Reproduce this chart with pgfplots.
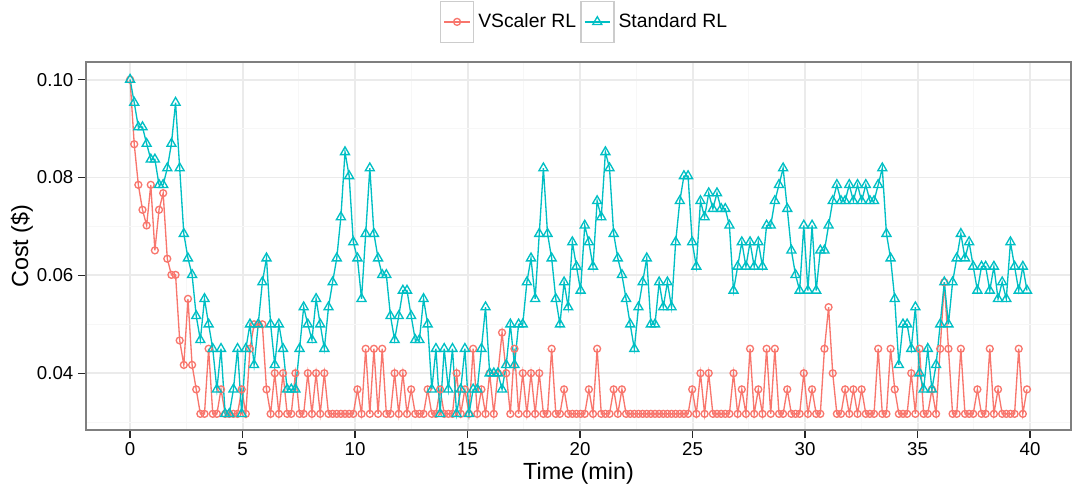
\documentclass[border=0pt]{standalone}
\usepackage{pgfplots}
\usepackage{pgfplotstable}
\pgfplotsset{compat=1.18}
\usepackage{fontspec}
\setmainfont{Liberation Sans}
\definecolor{vred}{HTML}{F8766D}
\definecolor{vteal}{HTML}{00BFC4}
\definecolor{gmaj}{HTML}{EBEBEB}
\definecolor{gmin}{HTML}{F7F7F7}
\definecolor{gborder}{HTML}{7F7F7F}
\definecolor{gkey}{HTML}{CCCCCC}
\pgfplotstableread{
t v s
0 0.1000 0.1000
0.184 0.0868 0.0953
0.367 0.0785 0.0903
0.551 0.0734 0.0903
0.735 0.0702 0.0869
0.919 0.0785 0.0837
1.102 0.0651 0.0837
1.286 0.0734 0.0785
1.470 0.0768 0.0785
1.653 0.0634 0.0819
1.837 0.0601 0.0869
2.021 0.0601 0.0953
2.204 0.0467 0.0819
2.388 0.0417 0.0685
2.572 0.0552 0.0635
2.756 0.0417 0.0601
2.939 0.0367 0.0517
3.123 0.0317 0.0468
3.307 0.0317 0.0552
3.490 0.0450 0.0500
3.674 0.0317 0.0450
3.858 0.0317 0.0367
4.041 0.0367 0.0450
4.225 0.0317 0.0317
4.409 0.0317 0.0317
4.593 0.0317 0.0367
4.776 0.0317 0.0450
4.960 0.0367 0.0317
5.144 0.0317 0.0450
5.327 0.0450 0.0500
5.511 0.0500 0.0417
5.695 0.0500 0.0500
5.878 0.0500 0.0586
6.062 0.0367 0.0635
6.246 0.0317 0.0500
6.430 0.0400 0.0417
6.613 0.0317 0.0500
6.797 0.0400 0.0450
6.981 0.0317 0.0367
7.164 0.0317 0.0367
7.348 0.0400 0.0367
7.532 0.0317 0.0450
7.715 0.0317 0.0535
7.899 0.0400 0.0500
8.083 0.0317 0.0468
8.267 0.0400 0.0552
8.450 0.0317 0.0500
8.634 0.0400 0.0450
8.818 0.0317 0.0535
9.001 0.0317 0.0586
9.185 0.0317 0.0635
9.369 0.0317 0.0719
9.552 0.0317 0.0852
9.736 0.0317 0.0803
9.920 0.0317 0.0668
10.104 0.0367 0.0635
10.287 0.0317 0.0552
10.471 0.0450 0.0685
10.655 0.0317 0.0819
10.838 0.0450 0.0685
11.022 0.0317 0.0635
11.206 0.0450 0.0601
11.389 0.0317 0.0601
11.573 0.0317 0.0517
11.757 0.0400 0.0468
11.941 0.0317 0.0517
12.124 0.0400 0.0569
12.308 0.0317 0.0569
12.492 0.0367 0.0517
12.675 0.0317 0.0468
12.859 0.0317 0.0468
13.043 0.0317 0.0552
13.226 0.0367 0.0500
13.410 0.0317 0.0367
13.594 0.0317 0.0450
13.778 0.0367 0.0317
13.961 0.0317 0.0450
14.145 0.0317 0.0367
14.329 0.0317 0.0450
14.512 0.0400 0.0317
14.696 0.0317 0.0367
14.880 0.0367 0.0450
15.063 0.0317 0.0317
15.247 0.0450 0.0367
15.431 0.0317 0.0367
15.615 0.0367 0.0450
15.798 0.0317 0.0535
15.982 0.0400 0.0400
16.166 0.0317 0.0400
16.349 0.0400 0.0400
16.533 0.0483 0.0367
16.717 0.0400 0.0417
16.900 0.0317 0.0500
17.084 0.0450 0.0417
17.268 0.0317 0.0500
17.452 0.0400 0.0500
17.635 0.0317 0.0586
17.819 0.0400 0.0635
18.003 0.0317 0.0552
18.186 0.0400 0.0685
18.370 0.0317 0.0819
18.554 0.0317 0.0685
18.737 0.0450 0.0635
18.921 0.0317 0.0552
19.105 0.0317 0.0500
19.289 0.0367 0.0586
19.472 0.0317 0.0535
19.656 0.0317 0.0668
19.840 0.0317 0.0618
20.023 0.0317 0.0569
20.207 0.0317 0.0702
20.391 0.0367 0.0668
20.574 0.0317 0.0618
20.758 0.0450 0.0752
20.942 0.0317 0.0719
21.126 0.0317 0.0852
21.309 0.0317 0.0819
21.493 0.0367 0.0685
21.677 0.0317 0.0635
21.860 0.0367 0.0601
22.044 0.0317 0.0552
22.228 0.0317 0.0500
22.411 0.0317 0.0450
22.595 0.0317 0.0535
22.779 0.0317 0.0586
22.963 0.0317 0.0635
23.146 0.0317 0.0500
23.330 0.0317 0.0500
23.514 0.0317 0.0586
23.697 0.0317 0.0535
23.881 0.0317 0.0586
24.065 0.0317 0.0535
24.248 0.0317 0.0668
24.432 0.0317 0.0752
24.616 0.0317 0.0803
24.800 0.0317 0.0803
24.983 0.0367 0.0668
25.167 0.0317 0.0618
25.351 0.0400 0.0752
25.534 0.0317 0.0719
25.718 0.0400 0.0768
25.902 0.0317 0.0736
26.085 0.0317 0.0768
26.269 0.0317 0.0736
26.453 0.0317 0.0736
26.637 0.0317 0.0702
26.820 0.0400 0.0569
27.004 0.0317 0.0618
27.188 0.0367 0.0668
27.371 0.0317 0.0618
27.555 0.0450 0.0668
27.739 0.0317 0.0618
27.922 0.0367 0.0668
28.106 0.0317 0.0618
28.290 0.0450 0.0702
28.474 0.0317 0.0702
28.657 0.0450 0.0752
28.841 0.0317 0.0785
29.025 0.0317 0.0819
29.208 0.0367 0.0736
29.392 0.0317 0.0651
29.576 0.0317 0.0601
29.759 0.0317 0.0569
29.943 0.0400 0.0702
30.127 0.0317 0.0569
30.311 0.0367 0.0702
30.494 0.0317 0.0569
30.678 0.0317 0.0651
30.862 0.0450 0.0651
31.045 0.0535 0.0702
31.229 0.0400 0.0752
31.413 0.0317 0.0785
31.596 0.0317 0.0752
31.780 0.0367 0.0752
31.964 0.0317 0.0785
32.148 0.0367 0.0752
32.331 0.0317 0.0785
32.515 0.0367 0.0752
32.699 0.0317 0.0785
32.882 0.0317 0.0752
33.066 0.0317 0.0752
33.250 0.0450 0.0785
33.433 0.0317 0.0819
33.617 0.0317 0.0685
33.801 0.0450 0.0635
33.985 0.0367 0.0552
34.168 0.0317 0.0417
34.352 0.0317 0.0500
34.536 0.0317 0.0500
34.719 0.0400 0.0450
34.903 0.0317 0.0535
35.087 0.0450 0.0400
35.270 0.0317 0.0367
35.454 0.0317 0.0450
35.638 0.0367 0.0367
35.822 0.0317 0.0417
36.005 0.0450 0.0500
36.189 0.0586 0.0586
36.373 0.0450 0.0500
36.556 0.0317 0.0586
36.740 0.0317 0.0635
36.924 0.0450 0.0685
37.107 0.0317 0.0635
37.291 0.0317 0.0668
37.475 0.0317 0.0618
37.659 0.0367 0.0569
37.842 0.0317 0.0618
38.026 0.0317 0.0618
38.210 0.0450 0.0569
38.393 0.0317 0.0618
38.577 0.0367 0.0552
38.761 0.0317 0.0586
38.944 0.0317 0.0552
39.128 0.0317 0.0668
39.312 0.0317 0.0618
39.496 0.0450 0.0569
39.679 0.0317 0.0618
39.863 0.0367 0.0569
}\costdata
\begin{document}
\begin{tikzpicture}
\path[use as bounding box] (-64.5pt,-46.5pt) rectangle (740.25pt,322.5pt);
\begin{axis}[
  at={(0pt,0pt)}, anchor=south west,
  scale only axis, width=738.75pt, height=276pt,
  xmin=-1.96, xmax=41.82, ymin=0.0284, ymax=0.1036,
  xtick={0,5,...,40},
  minor xtick={2.5,7.5,...,37.5},
  ytick={0.04,0.06,0.08,0.10},
  yticklabels={0.04,0.06,0.08,0.10},
  minor ytick={0.03,0.05,0.07,0.09},
  xtick pos=bottom, ytick pos=left,
  grid=both,
  major grid style={color=gmaj, line width=1.4pt},
  minor grid style={color=gmin, line width=0.75pt},
  axis line style={color=gborder, line width=1.2pt},
  tick align=outside,
  major tick length=6pt, minor tick length=0pt,
  tick style={black!85, line width=1.1pt},
  /pgf/number format/assume math mode=true,
  tick label style={font=\fontsize{14}{16}\selectfont, black},
  xlabel={Time (min)}, ylabel={Cost (\$)},
  every axis x label/.style={at={(axis description cs:0.5,-0.118)}, anchor=center,
    font=\fontsize{17.5}{20}\selectfont},
  every axis y label/.style={at={(axis description cs:-0.065,0.5)}, anchor=center, rotate=90,
    font=\fontsize{17.5}{20}\selectfont},
  legend columns=2,
  legend style={at={(axis description cs:0.505,1.109)}, anchor=center,
    draw=none, fill=none, font=\fontsize{14.5}{17}\selectfont,
    column sep=3pt, nodes={inner xsep=0pt, inner ysep=2pt}},
  legend image code/.code={
    \draw[draw=gkey, line width=1.1pt, fill=white] (-2.2pt,-15.4pt) rectangle (22.55pt,15.4pt);
    \draw[mark repeat=2, mark phase=2, #1] plot coordinates {(0.6pt,0pt) (10.2pt,0pt) (19.8pt,0pt)};
  },
]
\addplot[color=vred, line width=1pt, mark=o, mark size=2.6pt,
  mark options={fill=white, line width=1pt}] table[x=t, y=v] {\costdata};
\addlegendentry{VScaler RL}
\addplot[color=vteal, line width=1pt, mark=triangle, mark size=3.9pt,
  mark options={fill=white, line width=1pt}] table[x=t, y=s] {\costdata};
\addlegendentry{Standard RL}
\end{axis}
\end{tikzpicture}
\end{document}
